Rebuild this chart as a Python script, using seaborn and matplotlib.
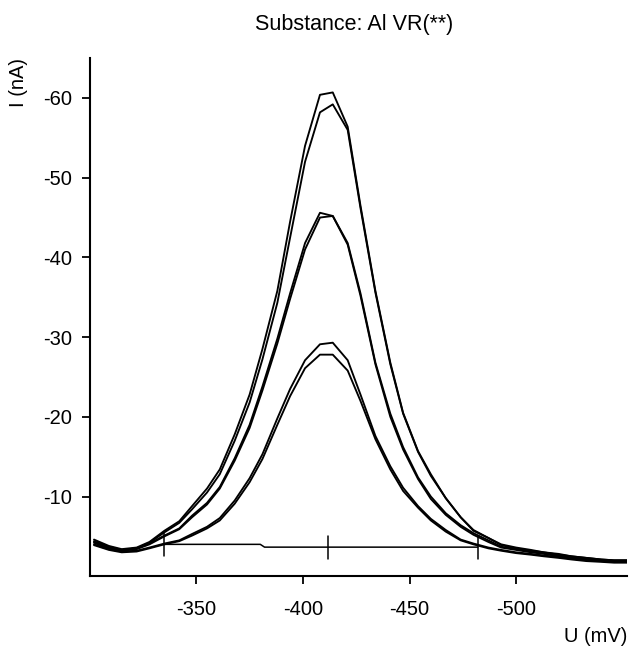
import numpy as np
import pandas as pd
import matplotlib
matplotlib.use("Agg")
import matplotlib.pyplot as plt
import seaborn as sns

# potential (mV) sampled along the scan
u_mv = [-302, -309, -315, -322, -328, -335, -342, -348, -355, -361,
        -368, -375, -381, -388, -394, -401, -408, -414, -421, -427,
        -434, -441, -447, -454, -460, -467, -474, -480, -487, -493,
        -500, -507, -513, -520, -526, -533, -540, -546, -553]

# current (nA), three pairs of replicate scans
i_a1 = [-4.6, -3.8, -3.4, -3.6, -4.3, -5.7, -6.9, -8.8, -11.0, -13.4,
        -17.8, -22.8, -28.5, -35.8, -44.5, -54.0, -60.4, -60.7, -56.4, -46.5,
        -35.8, -26.8, -20.5, -15.7, -12.8, -9.8, -7.4, -5.7, -4.8, -3.9,
        -3.5, -3.2, -3.0, -2.7, -2.5, -2.3, -2.1, -2.0, -2.0]
i_a2 = [-4.4, -3.7, -3.3, -3.5, -4.2, -5.5, -6.7, -8.4, -10.5, -12.8,
        -17.0, -21.8, -27.2, -34.3, -42.5, -52.0, -58.2, -59.2, -56.0, -46.2,
        -35.6, -26.6, -20.4, -15.6, -12.6, -9.8, -7.4, -5.8, -4.8, -4.0,
        -3.6, -3.3, -3.0, -2.8, -2.5, -2.3, -2.1, -2.0, -2.0]
i_b1 = [-4.3, -3.6, -3.3, -3.5, -4.1, -5.1, -6.0, -7.6, -9.2, -11.2,
        -14.8, -19.0, -23.8, -29.8, -35.5, -41.8, -45.6, -45.2, -41.8, -35.5,
        -26.8, -20.4, -16.2, -12.4, -10.0, -7.9, -6.4, -5.4, -4.5, -3.7,
        -3.4, -3.1, -2.9, -2.6, -2.4, -2.2, -2.0, -1.9, -1.9]
i_b2 = [-4.2, -3.5, -3.2, -3.4, -4.0, -5.0, -5.9, -7.4, -9.0, -11.0,
        -14.5, -18.6, -23.3, -29.2, -34.8, -41.0, -45.0, -45.2, -41.6, -35.2,
        -26.6, -20.0, -15.9, -12.2, -9.7, -7.7, -6.2, -5.2, -4.3, -3.6,
        -3.3, -3.0, -2.8, -2.5, -2.3, -2.1, -1.9, -1.9, -1.8]
i_c1 = [-4.0, -3.4, -3.1, -3.2, -3.6, -4.1, -4.5, -5.3, -6.2, -7.3,
        -9.5, -12.3, -15.3, -19.8, -23.5, -27.1, -29.1, -29.3, -27.1, -22.8,
        -17.6, -13.8, -11.1, -8.8, -7.2, -5.8, -4.6, -4.1, -3.6, -3.3,
        -3.0, -2.8, -2.6, -2.4, -2.2, -2.0, -1.9, -1.8, -1.8]
i_c2 = [-3.9, -3.3, -3.0, -3.1, -3.5, -4.0, -4.4, -5.1, -6.0, -7.0,
        -9.1, -11.8, -14.7, -19.0, -22.6, -26.1, -27.8, -27.8, -25.8, -22.0,
        -17.2, -13.4, -10.7, -8.6, -7.0, -5.6, -4.5, -4.0, -3.5, -3.2,
        -2.9, -2.7, -2.5, -2.3, -2.1, -1.9, -1.8, -1.7, -1.7]

# peak baseline and its marks
base_u = [-335, -380, -382, -482]
base_i = [-4.0, -4.0, -3.65, -3.65]
mark_u = [-335, -412, -482]
mark_i = [-4.0, -3.7, -3.65]

x_ticks = [-350, -400, -450, -500]
y_ticks = [-10, -20, -30, -40, -50, -60]

scans = {"A1": i_a1, "A2": i_a2, "B1": i_b1, "B2": i_b2, "C1": i_c1, "C2": i_c2}
df = pd.DataFrame([(u, v, k) for k, vals in scans.items() for u, v in zip(u_mv, vals)],
                  columns=["U", "I", "scan"])

sns.set_style("ticks")
plt.rcParams["font.family"] = ["Liberation Sans", "DejaVu Sans"]
plt.rcParams["axes.unicode_minus"] = False

fig = plt.figure(figsize=(6.32, 6.46), dpi=100)
ax = fig.add_axes([0.142, 0.108, 0.850, 0.802])

sns.lineplot(data=df, x="U", y="I", units="scan", estimator=None, sort=False,
             color="black", linewidth=1.35, ax=ax, legend=False)

ax.plot(base_u, base_i, color="black", linewidth=1.1)
for u, v in zip(mark_u, mark_i):
    ax.plot([u, u], [v - 1.4, v + 1.5], color="black", linewidth=1.1)

ax.set_xlim(-300, -552)
ax.set_ylim(0, -65)
ax.set_xticks(x_ticks)
ax.set_yticks(y_ticks)
ax.tick_params(axis="both", labelsize=14.5, length=6, width=1.3,
               color="black", labelcolor="black")
ax.tick_params(axis="x", pad=11)
ax.tick_params(axis="y", pad=7)
for side in ["left", "bottom"]:
    ax.spines[side].set_linewidth(1.5)
    ax.spines[side].set_color("black")
sns.despine(ax=ax)

ax.set_xlabel("U (mV)", fontsize=14.5, loc="right", color="black")
ax.xaxis.set_label_coords(1.0, -0.098)
ax.set_ylabel("I (nA)", fontsize=14.5, loc="top", color="black")
ax.yaxis.set_label_coords(-0.115, 1.0)
fig.suptitle("Substance: Al VR(**)", fontsize=15.5, x=0.56, y=0.978, color="black")

fig.savefig("out.png", dpi=100)
